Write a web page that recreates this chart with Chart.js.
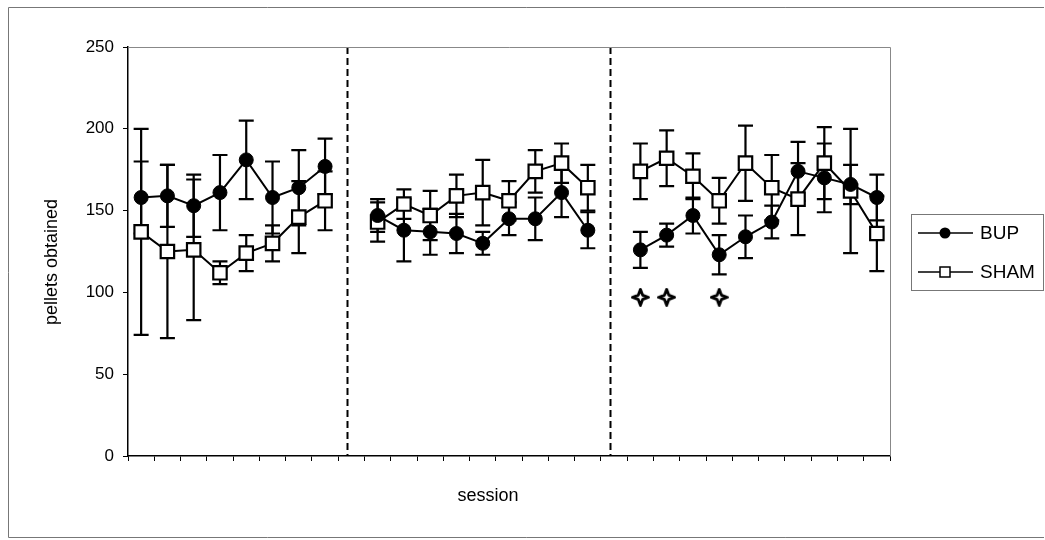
<!DOCTYPE html>
<html lang="en">
<head>
<meta charset="UTF-8">
<title>Pellets obtained per session</title>
<script src="https://cdn.jsdelivr.net/npm/chart.js@4.4.1/dist/chart.umd.min.js"></script>
<style>
    html, body { margin: 0; padding: 0; background: #fff; }
    #wrap { width: 1045px; height: 540px; }
</style>
</head>
<body>
<div id="wrap"><canvas id="chart" width="1045" height="540"></canvas></div>
<script>
    // sessions, with an empty slot between the three phases
    const sessions = ['1','2','3','4','5','6','7','8','',
                      '9','10','11','12','13','14','15','16','17','',
                      '18','19','20','21','22','23','24','25','26','27'];
    const phaseBreaks = [8, 18];

    const bupMean = [158, 159, 153, 161, 181, 158, 164, 177, null,
                     147, 138, 137, 136, 130, 145, 145, 161, 138, null,
                     126, 135, 147, 123, 134, 143, 174, 170, 166, 158];
    const bupErr  = [22, 19, 19, 23, 24, 22, 23, 17, null,
                     10, 19, 14, 12, 7, 10, 13, 15, 11, null,
                     11, 7, 11, 12, 13, 10, 18, 21, 12, 14];

    const shamMean = [137, 125, 126, 112, 124, 130, 146, 156, null,
                      143, 154, 147, 159, 161, 156, 174, 179, 164, null,
                      174, 182, 171, 156, 179, 164, 157, 179, 162, 136];
    const shamErr  = [63, 53, 43, 7, 11, 11, 22, 18, null,
                      12, 9, 15, 13, 20, 12, 13, 12, 14, null,
                      17, 17, 14, 14, 23, 20, 22, 22, 38, 23];

    // significance markers
    const sigMarks = [null, null, null, null, null, null, null, null, null,
                      null, null, null, null, null, null, null, null, null, null,
                      97, 97, null, 97, null, null, null, null, null, null];

    const yTicks = [0, 50, 100, 150, 200, 250];

    const FONT = '"Liberation Sans", Arial, sans-serif';

    function makeStar(size) {
        const c = document.createElement('canvas');
        c.width = c.height = size;
        const g = c.getContext('2d');
        const m = size / 2, r = m - 1.5, k = r * 0.27;
        g.beginPath();
        g.moveTo(m, m - r);
        g.lineTo(m + k, m - k);
        g.lineTo(m + r, m);
        g.lineTo(m + k, m + k);
        g.lineTo(m, m + r);
        g.lineTo(m - k, m + k);
        g.lineTo(m - r, m);
        g.lineTo(m - k, m - k);
        g.closePath();
        g.fillStyle = '#fff';
        g.fill();
        g.lineWidth = 2.8;
        g.lineJoin = 'round';
        g.strokeStyle = '#000';
        g.stroke();
        return c;
    }

    function drawErrBars(ctx, xs, ys, means, errs) {
        means.forEach((m, i) => {
            if (m === null) return;
            const x = xs.getPixelForValue(i);
            const top = ys.getPixelForValue(m + errs[i]);
            const bot = ys.getPixelForValue(m - errs[i]);
            ctx.beginPath();
            ctx.moveTo(x, top); ctx.lineTo(x, bot);
            ctx.moveTo(x - 7.5, top); ctx.lineTo(x + 7.5, top);
            ctx.moveTo(x - 7.5, bot); ctx.lineTo(x + 7.5, bot);
            ctx.stroke();
        });
    }

    const decorations = {
        id: 'decorations',
        beforeDraw(chart) {
            const ctx = chart.ctx;
            ctx.save();
            ctx.fillStyle = '#fff';
            ctx.fillRect(0, 0, chart.width, chart.height);
            // outer frame
            ctx.strokeStyle = '#777';
            ctx.lineWidth = 1;
            ctx.beginPath();
            ctx.moveTo(1044, 7.5); ctx.lineTo(8.5, 7.5); ctx.lineTo(8.5, 537.5); ctx.lineTo(1044, 537.5);
            ctx.stroke();
            ctx.restore();
        },
        beforeDatasetsDraw(chart) {
            const ctx = chart.ctx, xs = chart.scales.x, ys = chart.scales.y, a = chart.chartArea;
            ctx.save();
            // phase separators
            ctx.strokeStyle = '#000';
            ctx.lineWidth = 2;
            ctx.setLineDash([7, 4]);
            phaseBreaks.forEach(b => {
                const x = Math.round(xs.getPixelForValue(b - 0.17)) + 0.5;
                ctx.beginPath();
                ctx.moveTo(x, a.top);
                ctx.lineTo(x, a.bottom);
                ctx.stroke();
            });
            ctx.setLineDash([]);
            // error bars
            ctx.lineWidth = 2.2;
            drawErrBars(ctx, xs, ys, shamMean, shamErr);
            drawErrBars(ctx, xs, ys, bupMean, bupErr);
            ctx.restore();
        },
        afterDraw(chart) {
            const ctx = chart.ctx, a = chart.chartArea;
            ctx.save();
            // top and right edges of the plot area
            ctx.strokeStyle = '#888';
            ctx.lineWidth = 1;
            ctx.beginPath();
            ctx.moveTo(a.left, a.top + 0.5);
            ctx.lineTo(a.right + 0.5, a.top + 0.5);
            ctx.lineTo(a.right + 0.5, a.bottom);
            ctx.stroke();

            // axis titles
            ctx.fillStyle = '#000';
            ctx.font = '18px ' + FONT;
            ctx.textBaseline = 'middle';
            ctx.textAlign = 'center';
            ctx.fillText('session', 488, 496);
            ctx.translate(52, 262);
            ctx.rotate(-Math.PI / 2);
            ctx.fillText('pellets obtained', 0, 0);
            ctx.setTransform(1, 0, 0, 1, 0, 0);

            // legend
            const lx = 911, ly = 214, lw = 132, lh = 76;
            ctx.strokeStyle = '#777';
            ctx.strokeRect(lx + 0.5, ly + 0.5, lw, lh);
            const rows = [{ label: 'BUP', y: 233, circle: true }, { label: 'SHAM', y: 272, circle: false }];
            ctx.font = '19px ' + FONT;
            rows.forEach(r => {
                ctx.strokeStyle = '#000';
                ctx.lineWidth = 1.5;
                ctx.beginPath();
                ctx.moveTo(918, r.y); ctx.lineTo(973, r.y);
                ctx.stroke();
                if (r.circle) {
                    ctx.fillStyle = '#000';
                    ctx.beginPath();
                    ctx.arc(945, r.y, 5.5, 0, Math.PI * 2);
                    ctx.fill();
                } else {
                    ctx.fillStyle = '#fff';
                    ctx.fillRect(940, r.y - 5, 10, 10);
                    ctx.strokeRect(940, r.y - 5, 10, 10);
                }
                ctx.fillStyle = '#000';
                ctx.textAlign = 'left';
                ctx.fillText(r.label, 980, r.y + 1);
            });
            ctx.restore();
        }
    };

    const ctx = document.getElementById('chart').getContext('2d');
    new Chart(ctx, {
        type: 'line',
        data: {
            labels: sessions,
            datasets: [
                {
                    label: 'BUP',
                    data: bupMean,
                    borderColor: '#000',
                    borderWidth: 2,
                    pointStyle: 'circle',
                    pointRadius: 7,
                    pointBackgroundColor: '#000',
                    pointBorderColor: '#000',
                    pointBorderWidth: 1,
                    spanGaps: false
                },
                {
                    label: 'SHAM',
                    data: shamMean,
                    borderColor: '#000',
                    borderWidth: 2,
                    pointStyle: 'rect',
                    pointRadius: 9.5,
                    pointBackgroundColor: '#fff',
                    pointBorderColor: '#000',
                    pointBorderWidth: 2.2,
                    spanGaps: false
                },
                {
                    label: 'sig',
                    data: sigMarks,
                    showLine: false,
                    pointStyle: makeStar(19),
                    pointRadius: 9
                }
            ]
        },
        options: {
            responsive: false,
            animation: false,
            layout: { padding: { top: 47, right: 155, bottom: 0, left: 0 } },
            plugins: { legend: { display: false }, tooltip: { enabled: false } },
            scales: {
                x: {
                    type: 'category',
                    offset: true,
                    grid: { offset: true, drawOnChartArea: false, tickLength: 5, color: '#000' },
                    border: { color: '#000', width: 1.5 },
                    ticks: { display: false },
                    afterFit(s) { s.height = 84; }
                },
                y: {
                    min: 0,
                    max: 250,
                    afterBuildTicks(s) { s.ticks = yTicks.map(v => ({ value: v })); },
                    grid: { drawOnChartArea: false, tickLength: 5, color: '#000' },
                    border: { color: '#000', width: 1.5 },
                    ticks: { color: '#000', font: { family: FONT, size: 17 }, padding: 9 },
                    afterFit(s) { s.width = 128; }
                }
            }
        },
        plugins: [decorations]
    });
</script>
</body>
</html>
